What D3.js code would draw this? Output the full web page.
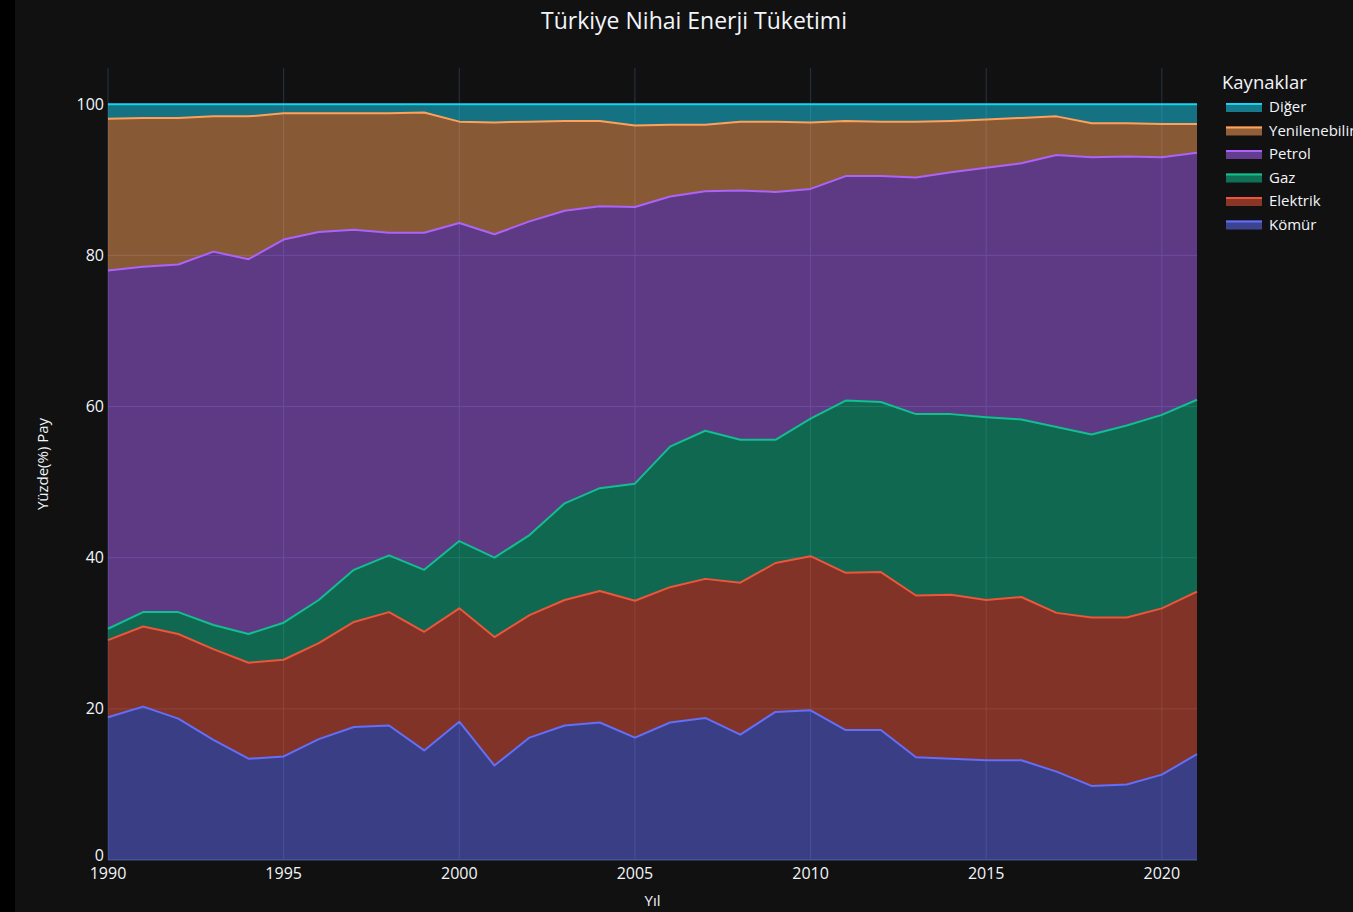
<!DOCTYPE html>
<html>
<head>
<meta charset="utf-8">
<script src="https://cdn.jsdelivr.net/npm/d3@7"></script>
<style>
  body { margin: 0; background: #111111; }
  text { font-family: "Open Sans", verdana, arial, sans-serif; fill: #f2f5fa; }
</style>
</head>
<body>
<div class="grafico"></div>
<script>
var margin = { top: 68, right: 156, bottom: 52, left: 108 };
var width = 1089, height = 792;

// yillar ve kaynak paylari (%)
var years = [1990, 1991, 1992, 1993, 1994, 1995, 1996, 1997, 1998, 1999,
  2000, 2001, 2002, 2003, 2004, 2005, 2006, 2007, 2008, 2009,
  2010, 2011, 2012, 2013, 2014, 2015, 2016, 2017, 2018, 2019, 2020, 2021];
var komur = [18.9, 20.3, 18.7, 15.9, 13.4, 13.7, 16.0, 17.6, 17.8, 14.5,
  18.3, 12.5, 16.2, 17.8, 18.2, 16.2, 18.2, 18.8, 16.6, 19.6,
  19.8, 17.2, 17.2, 13.6, 13.4, 13.2, 13.2, 11.7, 9.8, 10.0, 11.3, 14.0];
var elektrik = [10.2, 10.6, 11.2, 12.0, 12.7, 12.8, 12.7, 13.9, 15.0, 15.7,
  15.0, 17.0, 16.2, 16.6, 17.4, 18.1, 17.9, 18.4, 20.1, 19.7,
  20.4, 20.8, 20.9, 21.4, 21.7, 21.2, 21.6, 21.0, 22.3, 22.1, 22.0, 21.5];
var gaz = [1.5, 1.9, 2.9, 3.2, 3.8, 4.9, 5.7, 6.9, 7.5, 8.2,
  8.9, 10.5, 10.6, 12.8, 13.6, 15.5, 18.6, 19.6, 18.9, 16.3,
  18.2, 22.8, 22.5, 24.0, 23.9, 24.2, 23.5, 24.6, 24.2, 25.4, 25.6, 25.4];
var petrol = [47.4, 45.7, 46.0, 49.4, 49.6, 50.7, 48.7, 45.0, 42.7, 44.6,
  42.1, 42.8, 41.5, 38.7, 37.3, 36.6, 33.1, 31.7, 33.0, 32.8,
  30.4, 29.7, 29.9, 31.3, 32.0, 33.0, 33.9, 36.0, 36.7, 35.6, 34.1, 32.7];
var yenilenebilir = [20.1, 19.7, 19.4, 17.9, 18.9, 16.7, 15.7, 15.4, 15.8, 15.9,
  13.4, 14.8, 13.2, 11.9, 11.3, 10.8, 9.5, 8.8, 9.1, 9.3,
  8.8, 7.3, 7.2, 7.4, 6.8, 6.4, 6.0, 5.1, 4.5, 4.4, 4.4, 3.8];
var diger = [1.9, 1.8, 1.8, 1.6, 1.6, 1.2, 1.2, 1.2, 1.2, 1.1,
  2.3, 2.4, 2.3, 2.2, 2.2, 2.8, 2.7, 2.7, 2.3, 2.3,
  2.4, 2.2, 2.3, 2.3, 2.2, 2.0, 1.8, 1.6, 2.5, 2.5, 2.6, 2.6];

var kaynaklar = ["Kömür", "Elektrik", "Gaz", "Petrol", "Yenilenebilir", "Diğer"];
var seriler = [komur, elektrik, gaz, petrol, yenilenebilir, diger];
var renkler = ["#636efa", "#EF553B", "#10c090", "#ab63fa", "#FFA15A", "#19d3f3"];
var xTicks = [1990, 1995, 2000, 2005, 2010, 2015, 2020];
var yTicks = [0, 20, 40, 60, 80, 100];

var color = d3.scaleOrdinal().domain(kaynaklar).range(renkler);

// tablo: her yil bir satir
var rows = years.map(function (y, i) {
  var r = { yil: y };
  kaynaklar.forEach(function (k, j) { r[k] = seriler[j][i]; });
  return r;
});

var layers = d3.stack().keys(kaynaklar)(rows);

var svg = d3.select(".grafico").append("svg")
  .attr("width", width + margin.left + margin.right)
  .attr("height", height + margin.top + margin.bottom);

svg.append("rect")
  .attr("x", 0).attr("y", 0)
  .attr("width", 15).attr("height", height + margin.top + margin.bottom)
  .attr("fill", "#000");

var g = svg.append("g")
  .attr("transform", "translate(" + margin.left + "," + margin.top + ")");

var x = d3.scaleLinear().domain([1990, 2021]).range([0, width]);
var y = d3.scaleLinear().domain([0, 104.8]).range([height, 0]);

// grid
g.append("g").selectAll("line")
  .data(xTicks)
  .enter().append("line")
  .attr("x1", d => x(d)).attr("x2", d => x(d))
  .attr("y1", 0).attr("y2", height)
  .attr("stroke", "#283442").attr("stroke-width", 1);

g.append("g").selectAll("line")
  .data(yTicks)
  .enter().append("line")
  .attr("x1", 0).attr("x2", width)
  .attr("y1", d => y(d)).attr("y2", d => y(d))
  .attr("stroke", "#283442").attr("stroke-width", d => d === 0 ? 2 : 1);

var area = d3.area()
  .x(d => x(d.data.yil))
  .y0(d => y(d[0]))
  .y1(d => y(d[1]));

var line = d3.line()
  .x(d => x(d.data.yil))
  .y(d => y(d[1]));

g.append("g").selectAll("path")
  .data(layers)
  .enter().append("path")
  .attr("d", area)
  .attr("fill", d => color(d.key))
  .attr("fill-opacity", 0.5);

g.append("g").selectAll("path")
  .data(layers)
  .enter().append("path")
  .attr("d", line)
  .attr("fill", "none")
  .attr("stroke", d => color(d.key))
  .attr("stroke-width", 2)
  .attr("stroke-linejoin", "round");

// eksenler
g.append("g").selectAll("text")
  .data(xTicks)
  .enter().append("text")
  .attr("x", d => x(d))
  .attr("y", height + 19)
  .attr("text-anchor", "middle")
  .style("font-size", "16px")
  .text(d => d);

g.append("g").selectAll("text")
  .data(yTicks)
  .enter().append("text")
  .attr("x", -4)
  .attr("y", d => y(d) - (d === 0 ? 5 : 0))
  .attr("dy", ".35em")
  .attr("text-anchor", "end")
  .style("font-size", "16px")
  .text(d => d);

svg.append("text")
  .attr("x", margin.left + width / 2)
  .attr("y", 906)
  .attr("text-anchor", "middle")
  .style("font-size", "15px")
  .text("Yıl");

svg.append("text")
  .attr("transform", "translate(48," + (margin.top + height / 2) + ") rotate(-90)")
  .attr("text-anchor", "middle")
  .style("font-size", "15px")
  .text("Yüzde(%) Pay");

svg.append("text")
  .attr("x", 694)
  .attr("y", 29)
  .attr("text-anchor", "middle")
  .style("font-size", "23px")
  .text("Türkiye Nihai Enerji Tüketimi");

// legend
var legend = svg.append("g").attr("transform", "translate(1222,0)");
legend.append("text")
  .attr("x", 0).attr("y", 89)
  .style("font-size", "18.5px")
  .text("Kaynaklar");

var items = legend.selectAll(".item")
  .data(kaynaklar.slice().reverse())
  .enter().append("g")
  .attr("class", "item")
  .attr("transform", (d, i) => "translate(0," + (107 + i * 23.5) + ")");

items.append("rect")
  .attr("x", 4).attr("y", -4)
  .attr("width", 36).attr("height", 9)
  .attr("fill", d => color(d))
  .attr("fill-opacity", 0.55);

items.append("line")
  .attr("x1", 4).attr("x2", 40)
  .attr("y1", -3).attr("y2", -3)
  .attr("stroke", d => color(d))
  .attr("stroke-width", 2);

items.append("text")
  .attr("x", 47)
  .attr("y", 0)
  .attr("dy", ".35em")
  .style("font-size", "15px")
  .text(d => d);
</script>
</body>
</html>
